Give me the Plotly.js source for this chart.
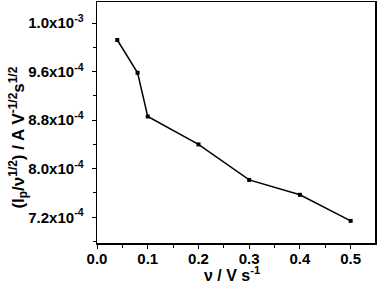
<!DOCTYPE html>
<html>
<head>
<meta charset="utf-8">
<script src="https://cdn.plot.ly/plotly-3.0.1.min.js"></script>
<style>html,body{margin:0;padding:0;background:#fff;}#plot{width:378px;height:283px;}</style>
</head>
<body>
<div id="plot"></div>
<script>
const scanRate = [0.04, 0.08, 0.10, 0.20, 0.30, 0.40, 0.50];
const normCurrent = [1.012e-3, 9.58e-4, 8.86e-4, 8.40e-4, 7.815e-4, 7.57e-4, 7.14e-4];
const yTickVals = [7.2e-4, 8.0e-4, 8.8e-4, 9.6e-4, 1.04e-3];
const yTickText = ["7.2x10<sup>-4</sup>", "8.0x10<sup>-4</sup>", "8.8x10<sup>-4</sup>", "9.6x10<sup>-4</sup>", "1.0x10<sup>-3</sup>"];
const xTickVals = [0.0, 0.1, 0.2, 0.3, 0.4, 0.5];
const xTickText = ["0.0", "0.1", "0.2", "0.3", "0.4", "0.5"];
const xTitle = "ν / V s<sup>-1</sup>";
const yTitle = "(I<sub>p</sub>/ν<sup>1/2</sup>) / A V<sup>-1/2</sup>s<sup>1/2</sup>";

const fam = "Liberation Sans, Arial, sans-serif";
const tickFont = {family: fam, size: 15, color: "#000", weight: "bold"};
const titleFont = {family: fam, size: 17, color: "#000", weight: "bold"};
const xTitleFont = {family: fam, size: 16, color: "#000", weight: "bold"};

Plotly.newPlot("plot", [{
  x: scanRate, y: normCurrent, type: "scatter", mode: "lines+markers",
  line: {color: "#000", width: 1.5},
  marker: {symbol: "square", size: 4, color: "#000"},
  showlegend: false
}], {
  width: 378, height: 283,
  margin: {l: 97, r: 3, t: 2, b: 40},
  paper_bgcolor: "#fff", plot_bgcolor: "#fff",
  font: tickFont,
  xaxis: {
    range: [0, 0.548], showgrid: false, zeroline: false,
    showline: true, linecolor: "#000", linewidth: 1.5, mirror: true,
    ticks: "outside", ticklen: 4, tickwidth: 1, tickcolor: "#000",
    tickvals: xTickVals, ticktext: xTickText, ticklabelstandoff: -3,
    minor: {dtick: 0.05, tick0: 0, ticks: "outside", ticklen: 3, tickcolor: "#000"},
    tickfont: tickFont
  },
  yaxis: {
    range: [6.776e-4, 1.0746e-3], showgrid: false, zeroline: false,
    showline: true, linecolor: "#000", linewidth: 1.5, mirror: true,
    ticks: "outside", ticklen: 4, tickwidth: 1, tickcolor: "#000",
    tickvals: yTickVals, ticktext: yTickText, ticklabelstandoff: 5,
    minor: {dtick: 4e-5, tick0: 6.8e-4, ticks: "outside", ticklen: 3, tickcolor: "#000"},
    tickfont: tickFont
  },
  annotations: [
    {text: xTitle, xref: "paper", yref: "paper", x: 0.484, y: -0.127,
     xanchor: "center", yanchor: "middle", showarrow: false, font: xTitleFont},
    {text: yTitle, xref: "paper", yref: "paper", x: -0.284, y: 0.4378, textangle: -90,
     xanchor: "center", yanchor: "middle", showarrow: false, font: titleFont}
  ]
}, {staticPlot: true, displayModeBar: false});
</script>
</body>
</html>
